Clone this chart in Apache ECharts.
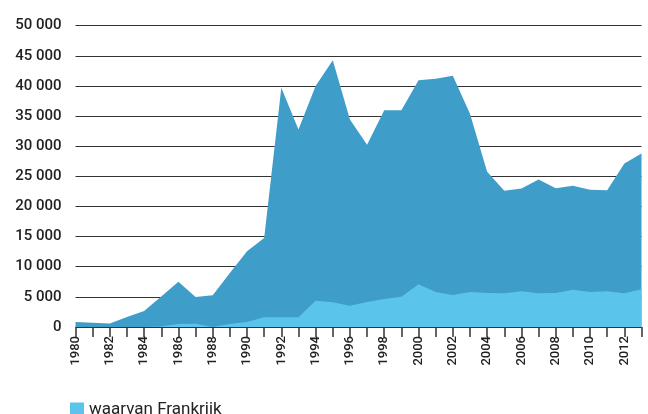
<!DOCTYPE html>
<html>
<head>
<meta charset="utf-8">
<script src="https://cdn.jsdelivr.net/npm/echarts@6/dist/echarts.min.js"></script>
<style>
  html, body { margin: 0; padding: 0; background: #fff; }
  #chart { width: 648px; height: 414px; }
</style>
</head>
<body>
<div id="chart"></div>
<script>
const years = [];
for (let y = 1980; y <= 2013; y++) years.push(String(y));

// totaal
const totaal = [830, 700, 600, 1660, 2650, 5080, 7520, 4980, 5250, 8970,
  12560, 14780, 39700, 32780, 40000, 44250, 34430, 30230, 35980, 35980,
  40960, 41190, 41690, 35380, 25750, 22590, 22970, 24470, 23030, 23420,
  22760, 22690, 27130, 28790];

// waarvan Frankrijk
const frankrijk = [0, 0, 0, 0, 0, 100, 500, 520, 0, 500,
  830, 1600, 1600, 1600, 4370, 4090, 3520, 4150, 4650, 5030,
  7080, 5810, 5310, 5810, 5650, 5590, 5920, 5590, 5650, 6200,
  5810, 5920, 5590, 6250];

const chart = echarts.init(document.getElementById('chart'));

chart.setOption({
  animation: false,
  grid: { left: 75.5, right: 6.5, top: 25.7, bottom: 87 },
  legend: {
    data: ['waarvan Frankrijk'],
    left: 65,
    top: 396,
    orient: 'vertical',
    itemWidth: 14,
    itemHeight: 14,
    itemGap: 6,
    icon: 'rect',
    textStyle: { fontFamily: 'Roboto', fontSize: 17, color: '#222' }
  },
  xAxis: {
    type: 'category',
    data: years,
    boundaryGap: false,
    offset: 5,
    axisLine: { show: false },
    axisTick: { show: true, interval: 0, length: 10, lineStyle: { color: '#333', width: 1.5 } },
    axisLabel: {
      interval: 1,
      rotate: 90,
      margin: 4,
      fontFamily: 'Roboto',
      fontSize: 13,
      fontWeight: 500,
      color: '#222'
    }
  },
  yAxis: {
    type: 'value',
    min: 0,
    max: 50000,
    interval: 5000,
    axisLine: { show: false },
    axisTick: { show: false },
    axisLabel: {
      margin: 14,
      fontFamily: 'Roboto',
      fontSize: 15,
      fontWeight: 500,
      color: '#222',
      formatter: v => String(v).replace(/\B(?=(\d{3})+(?!\d))/g, ' ')
    },
    splitLine: { lineStyle: { color: '#333', width: 1.2 } }
  },
  series: [
    {
      name: 'totaal',
      type: 'line',
      data: totaal,
      symbol: 'none',
      lineStyle: { width: 0 },
      itemStyle: { color: '#3f9dc9' },
      areaStyle: { color: '#3f9dc9', opacity: 1 }
    },
    {
      name: 'waarvan Frankrijk',
      type: 'line',
      data: frankrijk,
      symbol: 'none',
      lineStyle: { width: 0 },
      itemStyle: { color: '#5bc4ea' },
      areaStyle: { color: '#5bc4ea', opacity: 1 }
    }
  ]
});
</script>
</body>
</html>
